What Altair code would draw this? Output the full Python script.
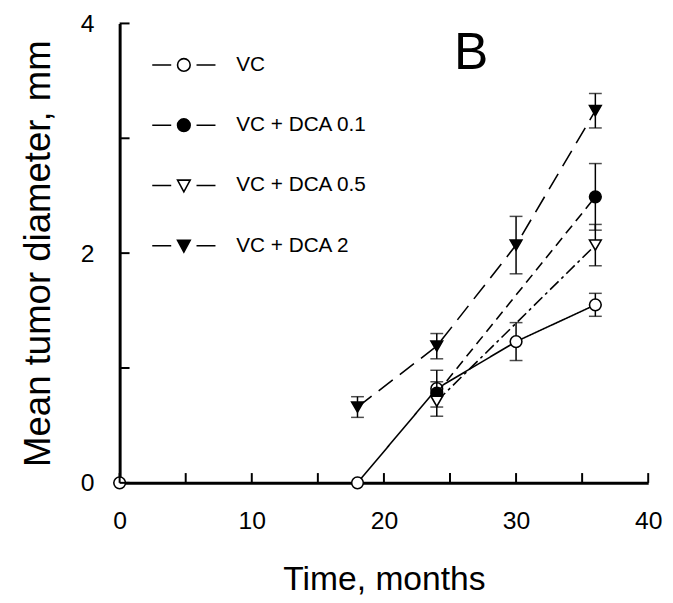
import altair as alt
import pandas as pd

# ---------------- data ----------------
series = ["VC", "VC + DCA 0.1", "VC + DCA 0.5", "VC + DCA 2"]

vc_t = [0, 18, 24, 30, 36]
vc_y = [0.0, 0.0, 0.82, 1.23, 1.55]
vc_err = [0.0, 0.0, 0.06, 0.165, 0.10]

dca01_t = [24, 36]
dca01_y = [0.78, 2.49]
dca01_err = [0.20, 0.29]

dca05_t = [24, 36]
dca05_y = [0.71, 2.07]
dca05_err = [0.05, 0.18]

dca2_t = [18, 24, 30, 36]
dca2_y = [0.66, 1.19, 2.07, 3.24]
dca2_err = [0.09, 0.11, 0.25, 0.15]

x_tick_values = [0, 5, 10, 15, 20, 25, 30, 35, 40]
x_label_values = [0, 10, 20, 30, 40]
y_tick_values = [0, 1, 2, 3, 4]
y_label_values = [0, 2, 4]

panel_label = "B"

# ---------------- styles ----------------
FONT = "Liberation Sans"
styles = {
    "VC": dict(shape="circle", fill="white", dash=[1, 0]),
    "VC + DCA 0.1": dict(shape="circle", fill="black", dash=[10, 6]),
    "VC + DCA 0.5": dict(shape="triangle-down", fill="white", dash=[12, 4, 3, 4]),
    "VC + DCA 2": dict(shape="triangle-down", fill="black", dash=[18, 9]),
}
CIRC = "M-1,0L-0.4,0M0.4,0L1,0M-0.2,0A0.2,0.2,0,1,1,0.2,0A0.2,0.2,0,1,1,-0.2,0Z"
TRI = "M-1,0L-0.4,0M0.4,0L1,0M-0.2,-0.17L0.2,-0.17L0,0.2Z"
legend_paths = [CIRC, CIRC, TRI, TRI]
legend_fills = ["white", "black", "white", "black"]
legend_strokes = ["black", "black", "black", "black"]

rows = []
for name, ts, ys, es in [
    ("VC", vc_t, vc_y, vc_err),
    ("VC + DCA 0.1", dca01_t, dca01_y, dca01_err),
    ("VC + DCA 0.5", dca05_t, dca05_y, dca05_err),
    ("VC + DCA 2", dca2_t, dca2_y, dca2_err),
]:
    for t, y, e in zip(ts, ys, es):
        rows.append({"series": name, "t": t, "y": y, "lo": y - e, "hi": y + e, "err": e})
df = pd.DataFrame(rows)

xs = alt.Scale(domain=[0, 40], nice=False)
ys_ = alt.Scale(domain=[0, 4], nice=False)

base = alt.Chart(df)

layers = []
for name in series:
    st = styles[name]
    d = base.transform_filter(alt.datum.series == name)
    line = d.mark_line(color="black", strokeWidth=1.6, strokeDash=st["dash"]).encode(
        x=alt.X("t:Q", scale=xs,
                axis=alt.Axis(values=x_label_values, title="Time, months", format="d")),
        y=alt.Y("y:Q", scale=ys_,
                axis=alt.Axis(values=y_label_values, title="Mean tumor diameter, mm", format="d")),
    )
    eb = d.transform_filter(alt.datum.err > 0)
    bar = eb.mark_rule(color="black", strokeWidth=1.5).encode(
        x="t:Q", y="lo:Q", y2="hi:Q")
    cap_hi = eb.mark_tick(orient="horizontal", color="black", size=13, thickness=1.5).encode(
        x="t:Q", y="hi:Q")
    cap_lo = eb.mark_tick(orient="horizontal", color="black", size=13, thickness=1.5).encode(
        x="t:Q", y="lo:Q")
    pts = d.mark_point(shape=st["shape"], filled=True, fill=st["fill"], stroke="black",
                       strokeWidth=1.6, size=140, opacity=1).encode(x="t:Q", y="y:Q")
    layers += [line, bar, cap_hi, cap_lo, pts]

# inward axis ticks
xt = alt.Chart(pd.DataFrame({"v": x_tick_values})).mark_rule(color="black", strokeWidth=2).encode(
    x="v:Q", y=alt.datum(0), y2=alt.datum(0.085))
yt = alt.Chart(pd.DataFrame({"v": y_tick_values})).mark_rule(color="black", strokeWidth=2).encode(
    y="v:Q", x=alt.datum(0), x2=alt.datum(0.75))

# panel label
lab = alt.Chart(pd.DataFrame({"txt": [panel_label]})).mark_text(
    font=FONT, fontSize=52, color="black", align="center", baseline="middle").encode(
    x=alt.datum(26.6), y=alt.datum(3.74), text="txt:N")

# legend layer (no visible marks)
leg = alt.Chart(pd.DataFrame({"series": series})).transform_filter("false").mark_point(
    filled=True, strokeWidth=1.6, size=4096, opacity=1).encode(
    x=alt.value(0), y=alt.value(0),
    shape=alt.Shape("series:N", scale=alt.Scale(domain=series, range=legend_paths),
                    legend=alt.Legend(title=None, orient="none", legendX=32, legendY=9,
                                      labelFont=FONT, labelFontSize=21, labelColor="black",
                                      labelOffset=20, rowPadding=18, padding=0,
                                      symbolSize=4096, symbolStrokeWidth=1.6,
                                      symbolOpacity=1)),
    fill=alt.Fill("series:N", scale=alt.Scale(domain=series, range=legend_fills)),
    stroke=alt.Stroke("series:N", scale=alt.Scale(domain=series, range=legend_strokes)),
)

chart = alt.layer(*layers, xt, yt, lab, leg).properties(
    width=535, height=465,
    autosize=alt.AutoSizeParams(type="none"),
    padding={"left": 113, "top": 12, "right": 17, "bottom": 118},
).configure_view(stroke=None).configure_axis(
    domainColor="black", domainWidth=3, ticks=False, grid=False, labelFlush=False,
    labelFont=FONT, titleFont=FONT, labelColor="black", titleColor="black",
    titleFontWeight="normal", zindex=1,
).configure_axisX(
    labelFontSize=25, labelPadding=26, titleFontSize=34, titlePadding=30,
).configure_axisY(
    labelFontSize=25, labelPadding=26, titleFontSize=37, titlePadding=23,
)

chart.save("out.html", embed_options={"renderer": "svg", "actions": False})
